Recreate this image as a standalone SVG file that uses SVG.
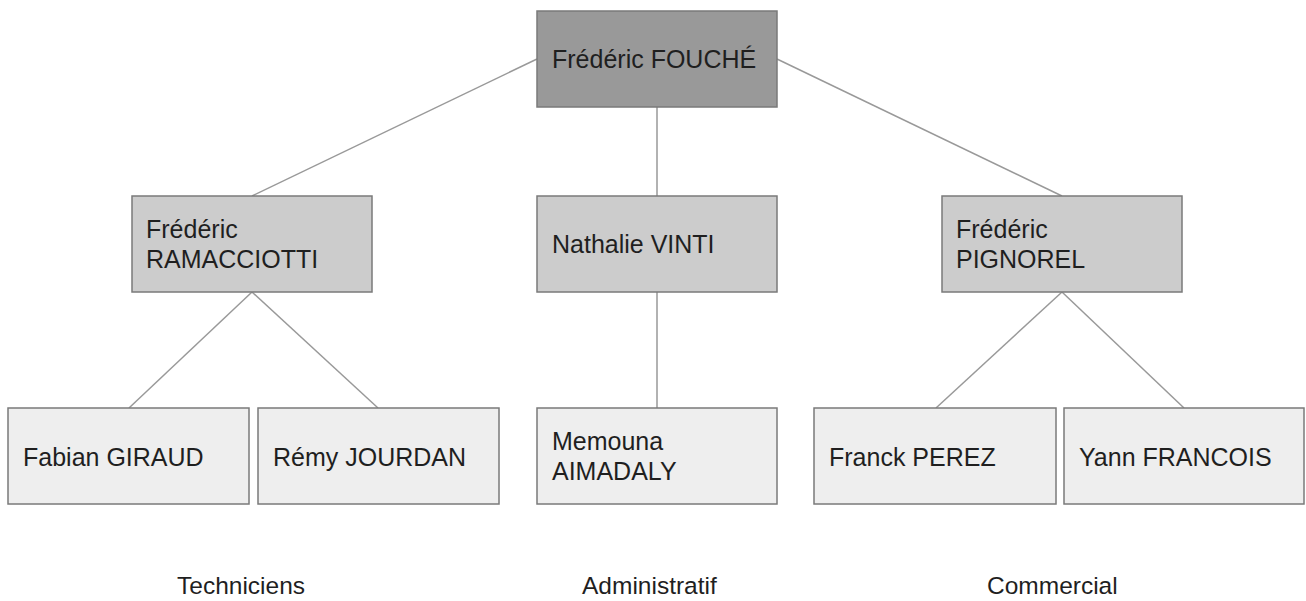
<svg xmlns="http://www.w3.org/2000/svg" width="1306" height="601" viewBox="0 0 1306 601">
<style>
  .box { stroke: #7a7a7a; stroke-width: 1.5; }
  .l0 { fill: #999999; }
  .l1 { fill: #cccccc; }
  .l2 { fill: #eeeeee; }
  text { font-family: "Liberation Sans", Arial, sans-serif; font-size: 25px; fill: #1f1f1f; }
  .lab { font-size: 24.5px; }
  .conn line { stroke: #999999; stroke-width: 1.5; }
</style>
<rect width="1306" height="601" fill="#ffffff"/>
<g id="connectors" class="conn">
  <line x1="537" y1="59" x2="252" y2="196"/>
  <line x1="777" y1="59" x2="1062" y2="196"/>
  <line x1="657" y1="107" x2="657" y2="196"/>
  <line x1="252" y1="292" x2="129" y2="408"/>
  <line x1="252" y1="292" x2="378" y2="408"/>
  <line x1="657" y1="292" x2="657" y2="408"/>
  <line x1="1062" y1="292" x2="936" y2="408"/>
  <line x1="1062" y1="292" x2="1184" y2="408"/>
</g>
<g id="fouche">
  <rect class="box l0" x="537" y="11" width="240" height="96"/>
  <text x="552" y="68">Frédéric FOUCHÉ</text>
</g>
<g id="ramacciotti">
  <rect class="box l1" x="132" y="196" width="240" height="96"/>
  <text x="146" y="238">Frédéric</text>
  <text x="146" y="268">RAMACCIOTTI</text>
</g>
<g id="vinti">
  <rect class="box l1" x="537" y="196" width="240" height="96"/>
  <text x="552" y="253">Nathalie VINTI</text>
</g>
<g id="pignorel">
  <rect class="box l1" x="942" y="196" width="240" height="96"/>
  <text x="956" y="238">Frédéric</text>
  <text x="956" y="268">PIGNOREL</text>
</g>
<g id="giraud">
  <rect class="box l2" x="8" y="408" width="241" height="96"/>
  <text x="23" y="466">Fabian GIRAUD</text>
</g>
<g id="jourdan">
  <rect class="box l2" x="258" y="408" width="241" height="96"/>
  <text x="273" y="466">Rémy JOURDAN</text>
</g>
<g id="aimadaly">
  <rect class="box l2" x="537" y="408" width="240" height="96"/>
  <text x="552" y="450">Memouna</text>
  <text x="552" y="480">AIMADALY</text>
</g>
<g id="perez">
  <rect class="box l2" x="814" y="408" width="242" height="96"/>
  <text x="829" y="466">Franck PEREZ</text>
</g>
<g id="francois">
  <rect class="box l2" x="1064" y="408" width="240" height="96"/>
  <text x="1079" y="466">Yann FRANCOIS</text>
</g>
<g id="labels">
  <text class="lab" x="177" y="594">Techniciens</text>
  <text class="lab" x="582" y="594">Administratif</text>
  <text class="lab" x="987" y="594">Commercial</text>
</g>
</svg>
